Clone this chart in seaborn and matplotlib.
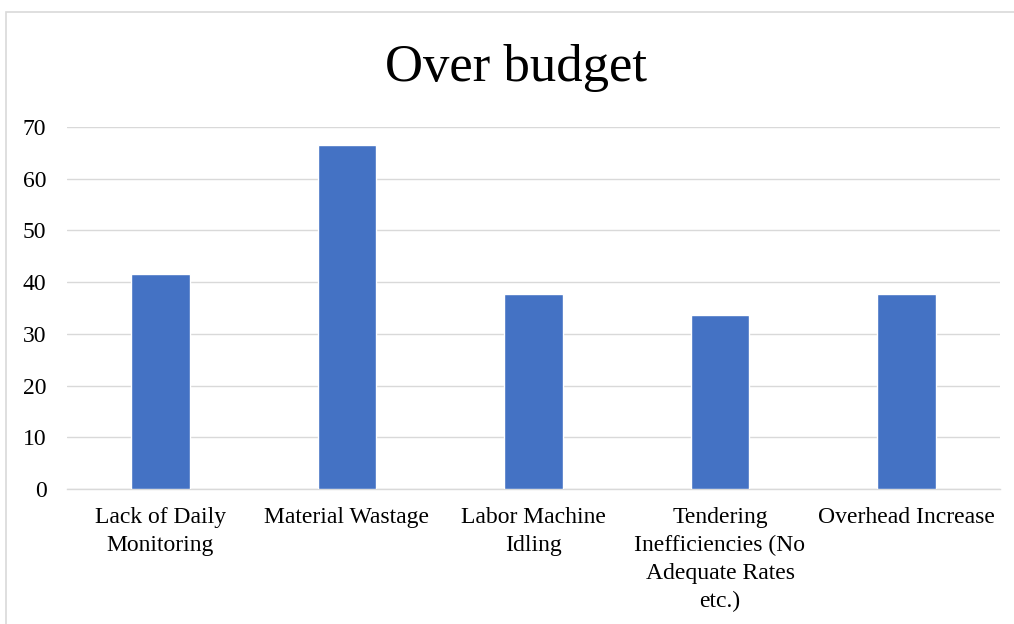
import matplotlib
matplotlib.use("Agg")
import matplotlib.pyplot as plt
import matplotlib.patches as mpatches
import pandas as pd
import seaborn as sns

categories = [
    "Lack of Daily\nMonitoring",
    "Material Wastage",
    "Labor Machine\nIdling",
    "Tendering\nInefficiencies (No\nAdequate Rates\netc.)",
    "Overhead Increase",
]
values = [41.6, 66.6, 37.7, 33.6, 37.7]
y_ticks = [0, 10, 20, 30, 40, 50, 60, 70]

sns.set_theme(style="white")
plt.rcParams["font.family"] = ["Liberation Serif", "DejaVu Serif"]

df = pd.DataFrame({"cause": categories, "value": values})

W, H = 1014, 624
fig = plt.figure(figsize=(W / 100, H / 100), dpi=100)
ax = fig.add_axes([67.25 / W, (H - 489) / H, 932.5 / W, 362 / H])

sns.barplot(data=df, x="cause", y="value", color="#4472C4", width=0.316,
            saturation=1, ax=ax, zorder=3)

ax.set_ylim(0, 70)
ax.set_xlim(-0.5, len(categories) - 0.5)
ax.set_yticks(y_ticks)
ax.set_yticklabels([str(t) for t in y_ticks])
ax.yaxis.grid(True, color="#D9D9D9", linewidth=1.0, zorder=0)
ax.set_axisbelow(True)
for side in ["top", "right", "left"]:
    ax.spines[side].set_visible(False)
ax.spines["bottom"].set_color("#D9D9D9")
ax.spines["bottom"].set_linewidth(1.0)
ax.set_xlabel("")
ax.set_ylabel("")
ax.tick_params(axis="both", length=0, labelsize=17, colors="black")
ax.tick_params(axis="y", pad=15)
ax.tick_params(axis="x", pad=13)
for lbl in ax.get_xticklabels():
    lbl.set_linespacing(1.42)

fig.text(516 / W, 1 - 68 / H, "Over budget", ha="center", va="center",
         fontsize=38, color="black")

# chart frame
fig.patches.append(mpatches.Rectangle((6 / W, -0.1), 1.2, 1 - 12 / H + 0.1,
                                      transform=fig.transFigure, fill=False,
                                      edgecolor="#D9D9D9", linewidth=1.2))

fig.savefig("out.png", dpi=100, facecolor="white")
